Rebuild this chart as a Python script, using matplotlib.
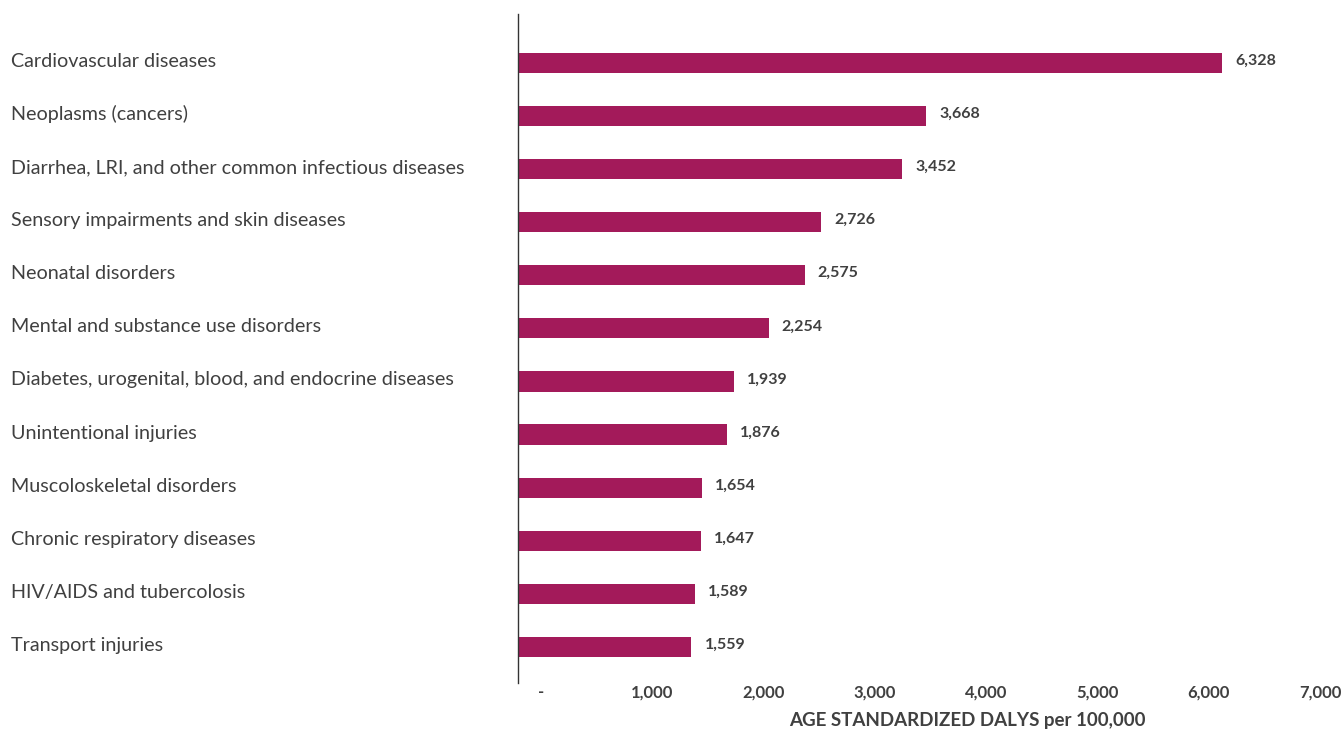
import matplotlib
matplotlib.use("Agg")
import matplotlib.pyplot as plt
import matplotlib.transforms as mtransforms

plt.rcParams['font.family'] = ['Lato', 'DejaVu Sans']

categories = [
    "Cardiovascular diseases",
    "Neoplasms (cancers)",
    "Diarrhea, LRI, and other common infectious diseases",
    "Sensory impairments and skin diseases",
    "Neonatal disorders",
    "Mental and substance use disorders",
    "Diabetes, urogenital, blood, and endocrine diseases",
    "Unintentional injuries",
    "Muscoloskeletal disorders",
    "Chronic respiratory diseases",
    "HIV/AIDS and tubercolosis",
    "Transport injuries",
]
values = [6328, 3668, 3452, 2726, 2575, 2254, 1939, 1876, 1654, 1647, 1589, 1559]
xticks = [0, 1000, 2000, 3000, 4000, 5000, 6000, 7000]
xticklabels = ["-", "1,000", "2,000", "3,000", "4,000", "5,000", "6,000", "7,000"]
xlabel = "AGE STANDARDIZED DALYS per 100,000"

bar_color = "#A31A5A"
text_color = "#404040"

W, H, DPI = 1341, 732, 100
fig = plt.figure(figsize=(W / DPI, H / DPI), dpi=DPI)
left_px, right_px, top_px, bottom_px = 518, 1297, 14, 683
ax = fig.add_axes([left_px / W, 1 - bottom_px / H, (right_px - left_px) / W, (bottom_px - top_px) / H])

pos = list(range(len(categories)))
ax.barh(pos, values, height=0.38, color=bar_color)
ax.set_xlim(0, 7000)
ax.set_ylim(11.68, -0.92)

for p, v in zip(pos, values):
    ax.annotate(f"{v:,}", xy=(v, p), xytext=(13, 2), textcoords="offset pixels",
                ha="left", va="center", fontsize=11.5, fontweight="bold", color=text_color)

ax.set_yticks(pos)
ax.set_yticklabels(categories, fontsize=14.2, color=text_color)
ax.tick_params(axis="y", length=0, pad=(left_px - 11) * 72 / DPI)
yoff = mtransforms.ScaledTranslation(0, 3 / DPI, fig.dpi_scale_trans)
for lab in ax.get_yticklabels():
    lab.set_ha("left")
    lab.set_transform(lab.get_transform() + yoff)

ax.set_xticks(xticks)
ax.set_xticklabels(xticklabels, fontsize=12, fontweight="bold", color=text_color)
ax.tick_params(axis="x", length=0, pad=1)
offset = mtransforms.ScaledTranslation(23 / DPI, 0, fig.dpi_scale_trans)
for lab in ax.get_xticklabels():
    lab.set_transform(lab.get_transform() + offset)

ax.set_xlabel(xlabel, fontsize=13.5, fontweight="bold", color=text_color)
ax.xaxis.set_label_coords((967 - left_px) / (right_px - left_px), -0.044, transform=ax.transAxes)
ax.xaxis.label.set_va("top")

for s in ["top", "right", "bottom"]:
    ax.spines[s].set_visible(False)
ax.spines["left"].set_color("#333333")
ax.spines["left"].set_linewidth(1.0)

fig.savefig("out.png", dpi=DPI)
